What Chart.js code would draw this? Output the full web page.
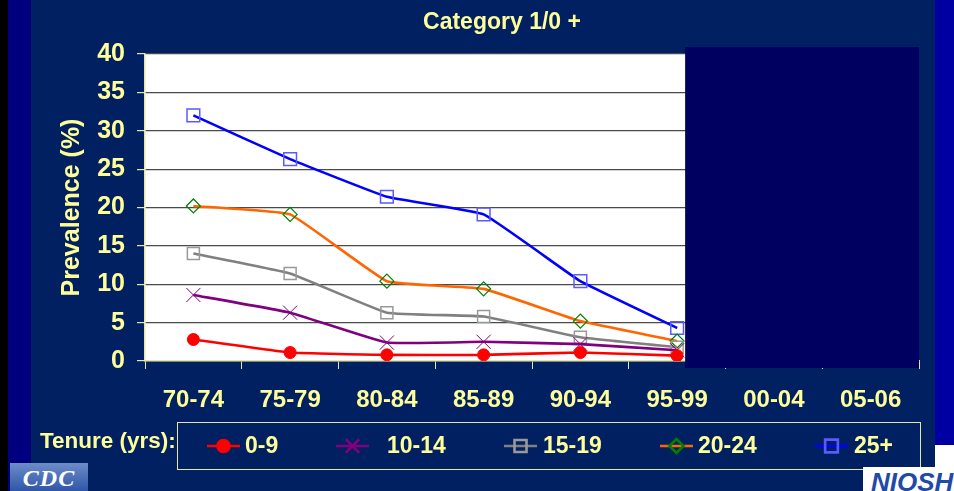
<!DOCTYPE html>
<html>
<head>
<meta charset="utf-8">
<title>Category 1/0 +</title>
<script src="https://cdn.jsdelivr.net/npm/chart.js"></script>
<style>
body{margin:0;background:#012061;overflow:hidden}
#wrap{position:relative;width:954px;height:491px}
.strip{position:absolute}
#chart{position:absolute;left:0;top:0}
#cdc{position:absolute;left:10px;top:463px;width:78px;height:28px;background:linear-gradient(#6d8cc8,#2f56a8);color:#fff;font:bold italic 24px "Liberation Serif",serif;text-align:center;line-height:30px;letter-spacing:1px}
#niosh{position:absolute;left:863px;top:467px;width:91px;height:24px;background:#fff;color:#1f4aa8;font:bold italic 26px "Liberation Sans",Arial,sans-serif;line-height:30px;padding-left:8px;box-sizing:border-box;overflow:hidden}
</style>
</head>
<body>
<div id="wrap">
<div class="strip" style="left:0;top:0;width:8px;height:491px;background:#000"></div>
<div class="strip" style="left:8px;top:0;width:23px;height:491px;background:#00007e"></div>
<div class="strip" style="left:935px;top:0;width:19px;height:445px;background:#0000a2"></div>
<div class="strip" style="left:935px;top:445px;width:19px;height:46px;background:#fff"></div>
<canvas id="chart" width="954" height="491"></canvas>
<div id="cdc">CDC</div>
<div id="niosh">NIOSH</div>
</div>

<script>
// ===== DATA =====
const periods=['70-74','75-79','80-84','85-89','90-94','95-99','00-04','05-06']
const tenure09=[2.8,1.1,0.8,0.8,1.1,0.7]
const tenure1014=[8.6,6.3,2.4,2.5,2.2,1.4]
const tenure1519=[14.0,11.4,6.3,5.8,3.1,1.8]
const tenure2024=[20.2,19.1,10.4,9.4,5.2,2.6]
const tenure25=[32.0,26.3,21.4,19.1,10.4,4.3]
const yTicks=[0,5,10,15,20,25,30,35,40]

const yellow='#ffff99'
const axisCol='#e6e6a8'
const FONT='"Liberation Sans", Arial, sans-serif'

const sets=[
 {label:'0-9',data:tenure09,borderColor:'#ff0000',pointStyle:'circle',pointRadius:6,pointBackgroundColor:'#ff0000',pointBorderColor:'#ff0000',pointBorderWidth:1},
 {label:'10-14',data:tenure1014,borderColor:'#800080',pointStyle:'crossRot',pointRadius:10,pointBackgroundColor:'#800080',pointBorderColor:'#800080',pointBorderWidth:1},
 {label:'15-19',data:tenure1519,borderColor:'#808080',pointStyle:'rect',pointRadius:8.5,pointBackgroundColor:'rgba(0,0,0,0)',pointBorderColor:'#999999',pointBorderWidth:1.5},
 {label:'20-24',data:tenure2024,borderColor:'#ff6600',pointStyle:'rectRot',pointRadius:7,pointBackgroundColor:'rgba(0,0,0,0)',pointBorderColor:'#008000',pointBorderWidth:1.2},
 {label:'25+',data:tenure25,borderColor:'#0000ff',pointStyle:'rect',pointRadius:9,pointBackgroundColor:'rgba(0,0,0,0)',pointBorderColor:'#5a5aff',pointBorderWidth:1.5}
]
sets.forEach(s=>{s.borderWidth=2.6;s.tension=0.1;s.fill=false})

// ===== PLUGIN: plot bg, mask box, title, legend =====
const deco={
 id:'deco',
 beforeDraw(c){
  const a=c.chartArea,ctx=c.ctx
  ctx.save()
  ctx.fillStyle='#ffffff'
  ctx.fillRect(a.left,a.top,a.right-a.left,a.bottom-a.top)
  ctx.restore()
 },
 afterDatasetsDraw(c){
  const ctx=c.ctx,x=c.scales.x,a=c.chartArea
  const l=x.getPixelForValue(5)+8
  ctx.save()
  ctx.fillStyle='#000060'
  ctx.fillRect(l,a.top-7,a.right-l,a.bottom-a.top+14)
  ctx.restore()
 },
 afterDraw(c){
  const ctx=c.ctx
  ctx.save()
  ctx.fillStyle=yellow
  ctx.textAlign='center';ctx.textBaseline='middle'
  ctx.font='bold 23px '+FONT
  ctx.fillText('Category 1/0 +',502,23)

  // legend
  ctx.textAlign='left'
  ctx.font='bold 22.5px '+FONT
  ctx.fillText('Tenure (yrs):',40,442)
  ctx.strokeStyle=axisCol;ctx.lineWidth=1
  ctx.strokeRect(177.5,422.5,743,47)
  const lx=[207,336,504,660,815],tx=[245,387,543,698,854],ly=446
  ctx.font='bold 23px '+FONT
  c.data.datasets.forEach((d,i)=>{
   ctx.strokeStyle=d.borderColor;ctx.lineWidth=2.6
   ctx.beginPath();ctx.moveTo(lx[i],ly);ctx.lineTo(lx[i]+33,ly);ctx.stroke()
   ctx.fillStyle=d.pointBackgroundColor;ctx.strokeStyle=d.pointBorderColor
   Chart.helpers.drawPoint(ctx,{pointStyle:d.pointStyle,radius:Math.min(d.pointRadius,9.5),rotation:0,borderWidth:d.pointBorderWidth},lx[i]+16.5,ly)
   ctx.fillStyle=yellow
   ctx.fillText(d.label,tx[i],ly+1)
  })
  ctx.restore()
 }
}

new Chart(document.getElementById('chart'),{
 type:'line',
 data:{labels:periods,datasets:sets},
 options:{
  responsive:false,animation:false,
  layout:{padding:{top:54,right:35,left:0,bottom:0}},
  plugins:{legend:{display:false},tooltip:{enabled:false},title:{display:false}},
  scales:{
   x:{
    offset:true,
    afterFit(s){s.height=130},
    grid:{display:true,offset:true,drawOnChartArea:false,drawTicks:true,tickLength:8,tickColor:axisCol},
    border:{color:axisCol,width:1.5},
    ticks:{color:yellow,padding:17,font:{family:FONT,size:24,weight:'bold'}}
   },
   y:{
    min:0,max:40,
    afterFit(s){s.width=145},
    afterBuildTicks(s){s.ticks=yTicks.map(v=>({value:v}))},
    grid:{color:'#4a4a4a',lineWidth:1.2,tickLength:8,tickColor:axisCol},
    border:{color:axisCol,width:1.5},
    ticks:{color:yellow,padding:12,font:{family:FONT,size:25,weight:'bold'}},
    title:{display:true,text:'Prevalence (%)',color:yellow,padding:{top:57,bottom:0},font:{family:FONT,size:25,weight:'bold'}}
   }
  }
 },
 plugins:[deco]
})
</script>
</body>
</html>
